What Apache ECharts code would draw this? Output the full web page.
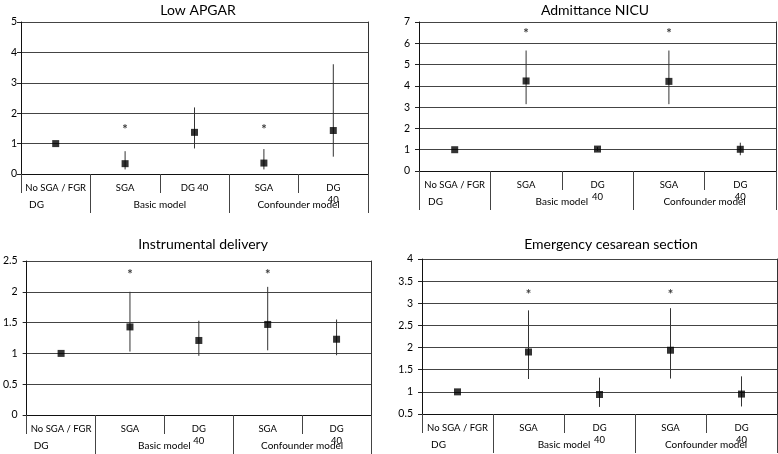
<!DOCTYPE html>
<html>
<head>
<meta charset="utf-8">
<script src="https://cdn.jsdelivr.net/npm/echarts@6/dist/echarts.min.js"></script>
<style>html,body{margin:0;padding:0;background:#fff}#c{width:778px;height:454px}</style>
</head>
<body>
<div id="c"></div>
<script>
// ---- data ----
const catsA = ['No SGA / FGR', 'SGA', 'DG 40', 'SGA', 'DG\n40'];
const catsB = ['No SGA / FGR', 'SGA', 'DG\n40', 'SGA', 'DG\n40'];
const groupLabels = ['DG', 'Basic model', 'Confounder model'];

const apgarOR   = [1.00, 0.34, 1.37, 0.36, 1.43];
const apgarLow  = [1.00, 0.15, 0.84, 0.15, 0.57];
const apgarHigh = [1.00, 0.75, 2.19, 0.82, 3.61];
const apgarStar = [null, 1.56, null, 1.56, null];

const nicuOR   = [1.00, 4.23, 1.03, 4.21, 1.02];
const nicuLow  = [1.00, 3.14, 0.95, 3.14, 0.74];
const nicuHigh = [1.00, 5.66, 1.12, 5.66, 1.33];
const nicuStar = [null, 6.60, null, 6.60, null];

const instrOR   = [1.00, 1.43, 1.21, 1.47, 1.23];
const instrLow  = [1.00, 1.03, 0.96, 1.05, 0.97];
const instrHigh = [1.00, 2.00, 1.53, 2.08, 1.55];
const instrStar = [null, 2.32, null, 2.32, null];

const ecsOR   = [1.00, 1.90, 0.94, 1.94, 0.95];
const ecsLow  = [1.00, 1.29, 0.66, 1.30, 0.67];
const ecsHigh = [1.00, 2.84, 1.32, 2.89, 1.35];
const ecsStar = [null, 3.25, null, 3.25, null];

const panels = [
  {title: 'Low APGAR', cats: catsA, or: apgarOR, lo: apgarLow, hi: apgarHigh, star: apgarStar,
   min: 0, max: 5, interval: 1, grid: {left: 21, top: 22, width: 347, height: 152},
   titlePos: [193, -2], yMargin: 4, leftLong: false, dgPad: 31},
  {title: 'Admittance NICU', cats: catsB, or: nicuOR, lo: nicuLow, hi: nicuHigh, star: nicuStar,
   min: 0, max: 7, interval: 1, grid: {left: 419, top: 22, width: 357, height: 149},
   titlePos: [590, -2], yMargin: 9, leftLong: true, dgPad: 33},
  {title: 'Instrumental delivery', cats: catsB, or: instrOR, lo: instrLow, hi: instrHigh, star: instrStar,
   min: 0, max: 2.5, interval: 0.5, grid: {left: 22, top: 261, width: 349, height: 154},
   titlePos: [198, 232], yMargin: 9, leftLong: false, dgPad: 29},
  {title: 'Emergency cesarean section', cats: catsB, or: ecsOR, lo: ecsLow, hi: ecsHigh, star: ecsStar,
   min: 0.5, max: 4, interval: 0.5, grid: {left: 422, top: 259, width: 355, height: 155},
   titlePos: [606, 232], yMargin: 9, leftLong: false, dgPad: 33}
];

const FONT = 'Lato';
const opt = {
  animation: false,
  backgroundColor: '#fff',
  textStyle: {fontFamily: FONT},
  title: [], grid: [], xAxis: [], yAxis: [], series: []
};

panels.forEach((p, i) => {
  opt.title.push({text: p.title, left: p.titlePos[0], top: p.titlePos[1], textAlign: 'center',
    textStyle: {fontFamily: FONT, fontSize: 14, fontWeight: 'normal', color: '#000'}});
  opt.grid.push(Object.assign({containLabel: false}, p.grid));
  // category axis (main)
  opt.xAxis.push({type: 'category', gridIndex: i, data: p.cats, boundaryGap: true,
    axisLine: {show: true, lineStyle: {color: '#111', width: 1}},
    axisTick: {show: true, length: 19, alignWithLabel: false, lineStyle: {color: '#444'}},
    axisLabel: {interval: 0, fontSize: 9.5, margin: 8, lineHeight: 12, color: '#000', fontFamily: FONT},
    splitLine: {show: false}});
  // group axis
  opt.xAxis.push({type: 'value', gridIndex: i, min: 0, max: 5, position: 'bottom',
    axisLine: {show: false}, splitLine: {show: false},
    axisTick: {show: true, customValues: p.leftLong ? [0, 1, 3, 5] : [1, 3, 5], length: 39, lineStyle: {color: '#444'}},
    axisLabel: {customValues: [0, 2, 4], showMinLabel: true, showMaxLabel: true, hideOverlap: false, margin: 26, fontSize: 10, color: '#000', fontFamily: FONT,
      formatter: v => v === 0 ? '{dg|' + groupLabels[0] + '}' : (v === 2 ? groupLabels[1] : (v === 4 ? groupLabels[2] : '')),
      rich: {dg: {padding: [0, 0, 0, p.dgPad], fontSize: 10, color: '#000', fontFamily: FONT}}}});
  // left y axis
  opt.yAxis.push({type: 'value', gridIndex: i, min: p.min, max: p.max, interval: p.interval,
    axisLine: {show: true, lineStyle: {color: '#111'}},
    axisTick: {show: true, length: 4, lineStyle: {color: '#222'}},
    axisLabel: {fontSize: 10.5, margin: p.yMargin, color: '#000', fontFamily: FONT},
    splitLine: {show: true, lineStyle: {color: '#444', width: 1}}});
  // right border
  opt.yAxis.push({type: 'value', gridIndex: i, position: 'right', min: p.min, max: p.max, interval: p.interval,
    axisLine: {show: true, lineStyle: {color: '#333'}}, axisTick: {show: false}, axisLabel: {show: false}, splitLine: {show: false}});

  opt.series.push({type: 'custom', xAxisIndex: 2 * i, yAxisIndex: 2 * i, z: 2,
    data: p.cats.map((c, k) => [k, p.lo[k], p.hi[k]]),
    encode: {x: 0, y: [1, 2]},
    renderItem: (params, api) => {
      const a = api.coord([api.value(0), api.value(1)]);
      const b = api.coord([api.value(0), api.value(2)]);
      return {type: 'line', shape: {x1: a[0], y1: a[1], x2: b[0], y2: b[1]}, style: {stroke: '#333', lineWidth: 1}};
    }});
  opt.series.push({type: 'scatter', xAxisIndex: 2 * i, yAxisIndex: 2 * i, z: 3,
    symbol: 'rect', symbolSize: 7, itemStyle: {color: '#000'},
    data: p.or.map((v, k) => [k, v])});
  opt.series.push({type: 'scatter', xAxisIndex: 2 * i, yAxisIndex: 2 * i, z: 3,
    symbolSize: 0,
    label: {show: true, formatter: '*', position: 'inside', offset: [0, 3], fontSize: 13, fontWeight: 'bold', color: '#000', fontFamily: FONT},
    data: p.star.map((v, k) => v == null ? null : [k, v]).filter(d => d)});
});

const chart = echarts.init(document.getElementById('c'), null, {renderer: 'canvas'});
chart.setOption(opt);
</script>
</body>
</html>
